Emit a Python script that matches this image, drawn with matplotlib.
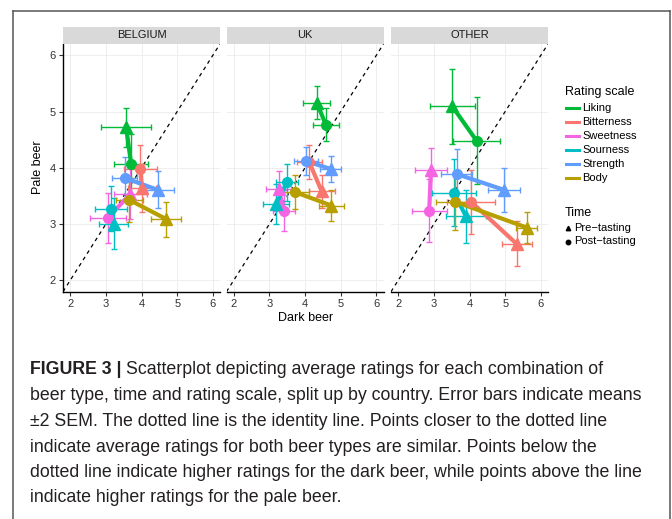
import matplotlib.pyplot as plt
from matplotlib.lines import Line2D

plt.rcParams['font.family'] = ['Liberation Sans', 'DejaVu Sans']

countries = ['BELGIUM', 'UK', 'OTHER']
scales = ['Liking', 'Bitterness', 'Sweetness', 'Sourness', 'Strength', 'Body']
colors = ['#00BA38', '#F8766D', '#F564E3', '#00BFC4', '#619CFF', '#B79F00']
ticks = [2, 3, 4, 5, 6]

# mean ratings (dark beer on x, pale beer on y) and 2*SEM, per scale
bel_pre_dark = [3.57, 4.01, 3.69, 3.22, 4.45, 4.69]
bel_pre_pale = [4.72, 3.64, 3.54, 3.01, 3.61, 3.09]
bel_pre_dark_err = [0.70, 0.40, 0.47, 0.41, 0.45, 0.43]
bel_pre_pale_err = [0.35, 0.43, 0.45, 0.45, 0.33, 0.31]
bel_post_dark = [3.71, 3.97, 3.06, 3.15, 3.53, 3.66]
bel_post_pale = [4.06, 3.98, 3.11, 3.27, 3.82, 3.43]
bel_post_dark_err = [0.48, 0.46, 0.50, 0.45, 0.35, 0.38]
bel_post_pale_err = [0.55, 0.43, 0.44, 0.40, 0.38, 0.40]

uk_pre_dark = [4.33, 4.47, 3.26, 3.19, 4.72, 4.74]
uk_pre_pale = [5.16, 3.58, 3.62, 3.36, 3.98, 3.33]
uk_pre_dark_err = [0.38, 0.37, 0.35, 0.37, 0.30, 0.34]
uk_pre_pale_err = [0.30, 0.30, 0.32, 0.35, 0.23, 0.28]
uk_post_dark = [4.58, 4.12, 3.41, 3.49, 4.03, 3.72]
uk_post_pale = [4.77, 4.10, 3.24, 3.74, 4.12, 3.57]
uk_post_dark_err = [0.36, 0.35, 0.32, 0.31, 0.33, 0.40]
uk_post_pale_err = [0.30, 0.30, 0.36, 0.33, 0.25, 0.30]

oth_pre_dark = [3.52, 5.32, 2.92, 3.90, 4.96, 5.60]
oth_pre_pale = [5.09, 2.65, 3.96, 3.14, 3.61, 2.94]
oth_pre_dark_err = [0.63, 0.42, 0.45, 0.56, 0.45, 0.30]
oth_pre_pale_err = [0.66, 0.40, 0.40, 0.47, 0.39, 0.27]
oth_post_dark = [4.20, 4.04, 2.87, 3.56, 3.64, 3.59]
oth_post_pale = [4.48, 3.40, 3.24, 3.56, 3.89, 3.40]
oth_post_dark_err = [0.65, 0.67, 0.49, 0.62, 0.44, 0.54]
oth_post_pale_err = [0.77, 0.57, 0.56, 0.60, 0.45, 0.50]

panels = [
    (bel_pre_dark, bel_pre_pale, bel_pre_dark_err, bel_pre_pale_err,
     bel_post_dark, bel_post_pale, bel_post_dark_err, bel_post_pale_err),
    (uk_pre_dark, uk_pre_pale, uk_pre_dark_err, uk_pre_pale_err,
     uk_post_dark, uk_post_pale, uk_post_dark_err, uk_post_pale_err),
    (oth_pre_dark, oth_pre_pale, oth_pre_dark_err, oth_pre_pale_err,
     oth_post_dark, oth_post_pale, oth_post_dark_err, oth_post_pale_err),
]

W, H = 672, 519
fig = plt.figure(figsize=(W / 100, H / 100), dpi=100)


def fx(px):
    return px / W


def fy(py):
    return 1 - py / H


lefts = [63, 226.5, 391]
pw, top, bottom = 157, 44, 291.7

for k, (name, data) in enumerate(zip(countries, panels)):
    ax = fig.add_axes([fx(lefts[k]), fy(bottom), pw / W, (bottom - top) / H])
    pre_x, pre_y, pre_xe, pre_ye, post_x, post_y, post_xe, post_ye = data

    ax.set_xlim(1.8, 6.2)
    ax.set_ylim(1.8, 6.2)
    ax.set_xticks(ticks)
    ax.set_yticks(ticks)
    ax.grid(True, color='#EBEBEB', lw=0.6)
    ax.set_axisbelow(True)
    for s in ['top', 'right']:
        ax.spines[s].set_visible(False)
    ax.spines['bottom'].set_linewidth(1.0)
    if k == 0:
        ax.spines['left'].set_linewidth(1.0)
    else:
        ax.spines['left'].set_visible(False)
        ax.tick_params(axis='y', left=False, labelleft=False)
    ax.tick_params(length=3, width=0.8, color='#333333', labelsize=8,
                   labelcolor='#333333', pad=2)

    # identity line
    ax.plot([1.8, 6.2], [1.8, 6.2], ls=(0, (3, 3)), color='black', lw=0.9,
            zorder=1)

    for i in range(len(scales)):
        c = colors[i]
        for xs, ys, xe, ye in [(pre_x, pre_y, pre_xe, pre_ye),
                               (post_x, post_y, post_xe, post_ye)]:
            ax.errorbar(xs[i], ys[i], xerr=xe[i], yerr=ye[i], fmt='none',
                        ecolor=c, elinewidth=1.0, capsize=2.2, capthick=1.0,
                        zorder=2)
    for i in range(len(scales)):
        ax.plot([pre_x[i], post_x[i]], [pre_y[i], post_y[i]], color=colors[i],
                lw=3, solid_capstyle='butt', zorder=3)
    for i in range(len(scales)):
        ax.plot(pre_x[i], pre_y[i], marker='^', ms=8, color=colors[i],
                ls='none', zorder=4)
        ax.plot(post_x[i], post_y[i], marker='o', ms=7, color=colors[i],
                ls='none', zorder=4)

    # facet strip
    sax = fig.add_axes([fx(lefts[k]), fy(top), pw / W, 17 / H])
    sax.set_facecolor('#D9D9D9')
    sax.set_xticks([])
    sax.set_yticks([])
    for s in sax.spines.values():
        s.set_visible(False)
    sax.text(0.5, 0.5, name, ha='center', va='center', fontsize=8,
             color='#1A1A1A', transform=sax.transAxes)

fig.text(fx(306), fy(318), 'Dark beer', ha='center', va='center', fontsize=9)
fig.text(fx(38), fy(167), 'Pale beer', ha='center', va='center', fontsize=9,
         rotation=90)

# legend
fig.text(fx(565), fy(92), 'Rating scale', ha='left', va='center', fontsize=9)
leg_y = [108, 122, 136, 150, 164, 178]
for name, c, y in zip(scales, colors, leg_y):
    fig.add_artist(Line2D([fx(565.5), fx(579)], [fy(y), fy(y)], color=c,
                          lw=2.2, transform=fig.transFigure))
    fig.text(fx(582), fy(y), name, ha='left', va='center', fontsize=8)
fig.text(fx(565), fy(213), 'Time', ha='left', va='center', fontsize=9)
for mk, label, y in [('^', 'Pre\u2212tasting', 228), ('o', 'Post\u2212tasting', 241.5)]:
    fig.add_artist(Line2D([fx(567.5)], [fy(y)], marker=mk, ms=3.2,
                          color='black', ls='none', transform=fig.transFigure))
    fig.text(fx(574), fy(y), label, ha='left', va='center', fontsize=8)

# frame around figure and caption
for xs, ys in [([13, 13], [11, 520]), ([13, 670], [11, 11]), ([670, 670], [11, 520])]:
    fig.add_artist(Line2D([fx(v) for v in xs], [fy(v) for v in ys],
                          color='#555555', lw=1.1, transform=fig.transFigure))

caption = [
    'beer type, time and rating scale, split up by country. Error bars indicate means',
    '\u00b12 SEM. The dotted line is the identity line. Points closer to the dotted line',
    'indicate average ratings for both beer types are similar. Points below the',
    'dotted line indicate higher ratings for the dark beer, while points above the line',
    'indicate higher ratings for the pale beer.',
]
cap_font = dict(fontsize=12.8, color='#231F20')
head = fig.text(fx(30), fy(370), 'FIGURE 3 |', ha='left', va='center',
                fontweight='bold', **cap_font)
fig.canvas.draw()
bb = head.get_window_extent(fig.canvas.get_renderer())
fig.text(bb.x1 / W + fx(4), fy(370),
         'Scatterplot depicting average ratings for each combination of',
         ha='left', va='center', **cap_font)
for j, line in enumerate(caption):
    fig.text(fx(30), fy(396 + 25.5 * j), line, ha='left', va='center', **cap_font)

fig.savefig('out.png', dpi=100)
